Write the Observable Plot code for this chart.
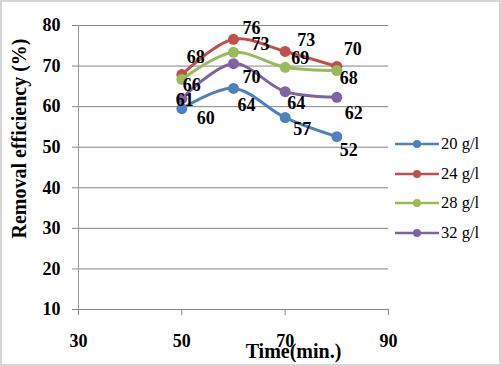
<!DOCTYPE html>
<html>
<head>
<meta charset="utf-8">
<script src="https://cdn.jsdelivr.net/npm/d3@7"></script>
<script src="https://cdn.jsdelivr.net/npm/@observablehq/plot@0.6"></script>
<style>
  html, body { margin: 0; padding: 0; background: #fff; }
  #wrap { position: relative; width: 501px; height: 366px; overflow: hidden; }
  #frame { position: absolute; left: 0; top: 0; width: 501px; height: 366px; box-sizing: border-box; border: 2px solid #d6d6d6; pointer-events: none; }
  #legend { position: absolute; left: 395px; top: 129px; font-family: "Liberation Serif", serif; font-size: 16.5px; color: #000; }
  .item { display: flex; align-items: center; height: 29.7px; }
  .item svg { display: block; }
  .item span { margin-left: 2px; }
</style>
</head>
<body>
<div id="wrap"><div id="chart"></div><div id="legend"></div><div id="frame"></div></div>
<script>
// ---- data ----
const times = [50, 60, 70, 80];
const seriesNames = ["20 g/l", "24 g/l", "28 g/l", "32 g/l"];
const s20 = [59.5, 64.5, 57.3, 52.6];
const s24 = [67.9, 76.6, 73.6, 69.9];
const s28 = [66.7, 73.4, 69.7, 68.9];
const s32 = [62.0, 70.6, 63.7, 62.3];
const lab20 = ["60", "64", "57", "52"];
const lab24 = ["68", "76", "73", "70"];
const lab28 = ["66", "73", "69", "68"];
const lab32 = ["61", "70", "64", "62"];
const xTicks = [30, 50, 70, 90];
const yTicks = [10, 20, 30, 40, 50, 60, 70, 80];

// ---- styling (not data) ----
const colors = ["#4f81bd", "#c0504d", "#9bbb59", "#8064a2"];
const labelNudge = [
  [[24, 10], [13, 17], [17, 12], [12, 14]],
  [[14, -17], [18, -11], [21, -11], [16, -17]],
  [[10, 6], [27, -8], [15, -9], [12, 8]],
  [[3, 2], [18, 14], [11, 12], [17, 16]]
];

const allVals = [s20, s24, s28, s32];
const allLabs = [lab20, lab24, lab28, lab32];
const rows = [];
allVals.forEach((vals, si) => vals.forEach((v, i) => rows.push({series: seriesNames[si], si, i, t: times[i], v, label: allLabs[si][i]})));

const font = "Liberation Serif";
const marks = [
  Plot.gridY(yTicks, {stroke: "#868686", strokeOpacity: 1}),
  Plot.ruleX([30], {stroke: "#9a9a9a"}),
  Plot.axisY(yTicks, {tickSize: 6, tickPadding: 12, fontSize: 18, fontWeight: "bold", fontFamily: font, label: null, stroke: "#868686"}),
  Plot.axisX(xTicks, {tickSize: 6, tickPadding: 19, fontSize: 18, fontWeight: "bold", fontFamily: font, label: null, stroke: "#868686"}),
];
seriesNames.forEach((name, si) => {
  const d = rows.filter(r => r.si === si);
  marks.push(Plot.line(d, {x: "t", y: "v", stroke: colors[si], strokeWidth: 3, curve: "catmull-rom"}));
  marks.push(Plot.dot(d, {x: "t", y: "v", fill: colors[si], r: 5.5}));
});
rows.forEach(r => {
  const [dx, dy] = labelNudge[r.si][r.i];
  marks.push(Plot.text([r], {x: "t", y: "v", text: "label", dx, dy, fontSize: 18, fontWeight: "bold", fontFamily: font, fill: "#000"}));
});
marks.push(Plot.text(["Removal efficiency (%)"], {frameAnchor: "left", textAnchor: "middle", lineAnchor: "middle", dx: -59, dy: -29, rotate: -90, fontSize: 20, fontWeight: "bold", fontFamily: font, fill: "#000"}));
marks.push(Plot.text(["Time(min.)"], {frameAnchor: "bottom", textAnchor: "middle", lineAnchor: "middle", dx: 60, dy: 42, fontSize: 20, fontWeight: "bold", fontFamily: font, fill: "#000"}));

const chart = Plot.plot({
  width: 501,
  height: 366,
  marginLeft: 78,
  marginRight: 113,
  marginTop: 25,
  marginBottom: 57,
  x: {domain: [30, 90]},
  y: {domain: [10, 80]},
  style: {background: "#fff", overflow: "visible"},
  marks
});
document.getElementById("chart").appendChild(chart);

// legend
const leg = document.getElementById("legend");
seriesNames.forEach((name, si) => {
  const item = document.createElement("div");
  item.className = "item";
  item.innerHTML = `<svg width="44" height="10"><line x1="0" y1="5" x2="44" y2="5" stroke="${colors[si]}" stroke-width="2.5"/><circle cx="22" cy="5" r="4" fill="${colors[si]}"/></svg><span>${name}</span>`;
  leg.appendChild(item);
});
</script>
</body>
</html>
